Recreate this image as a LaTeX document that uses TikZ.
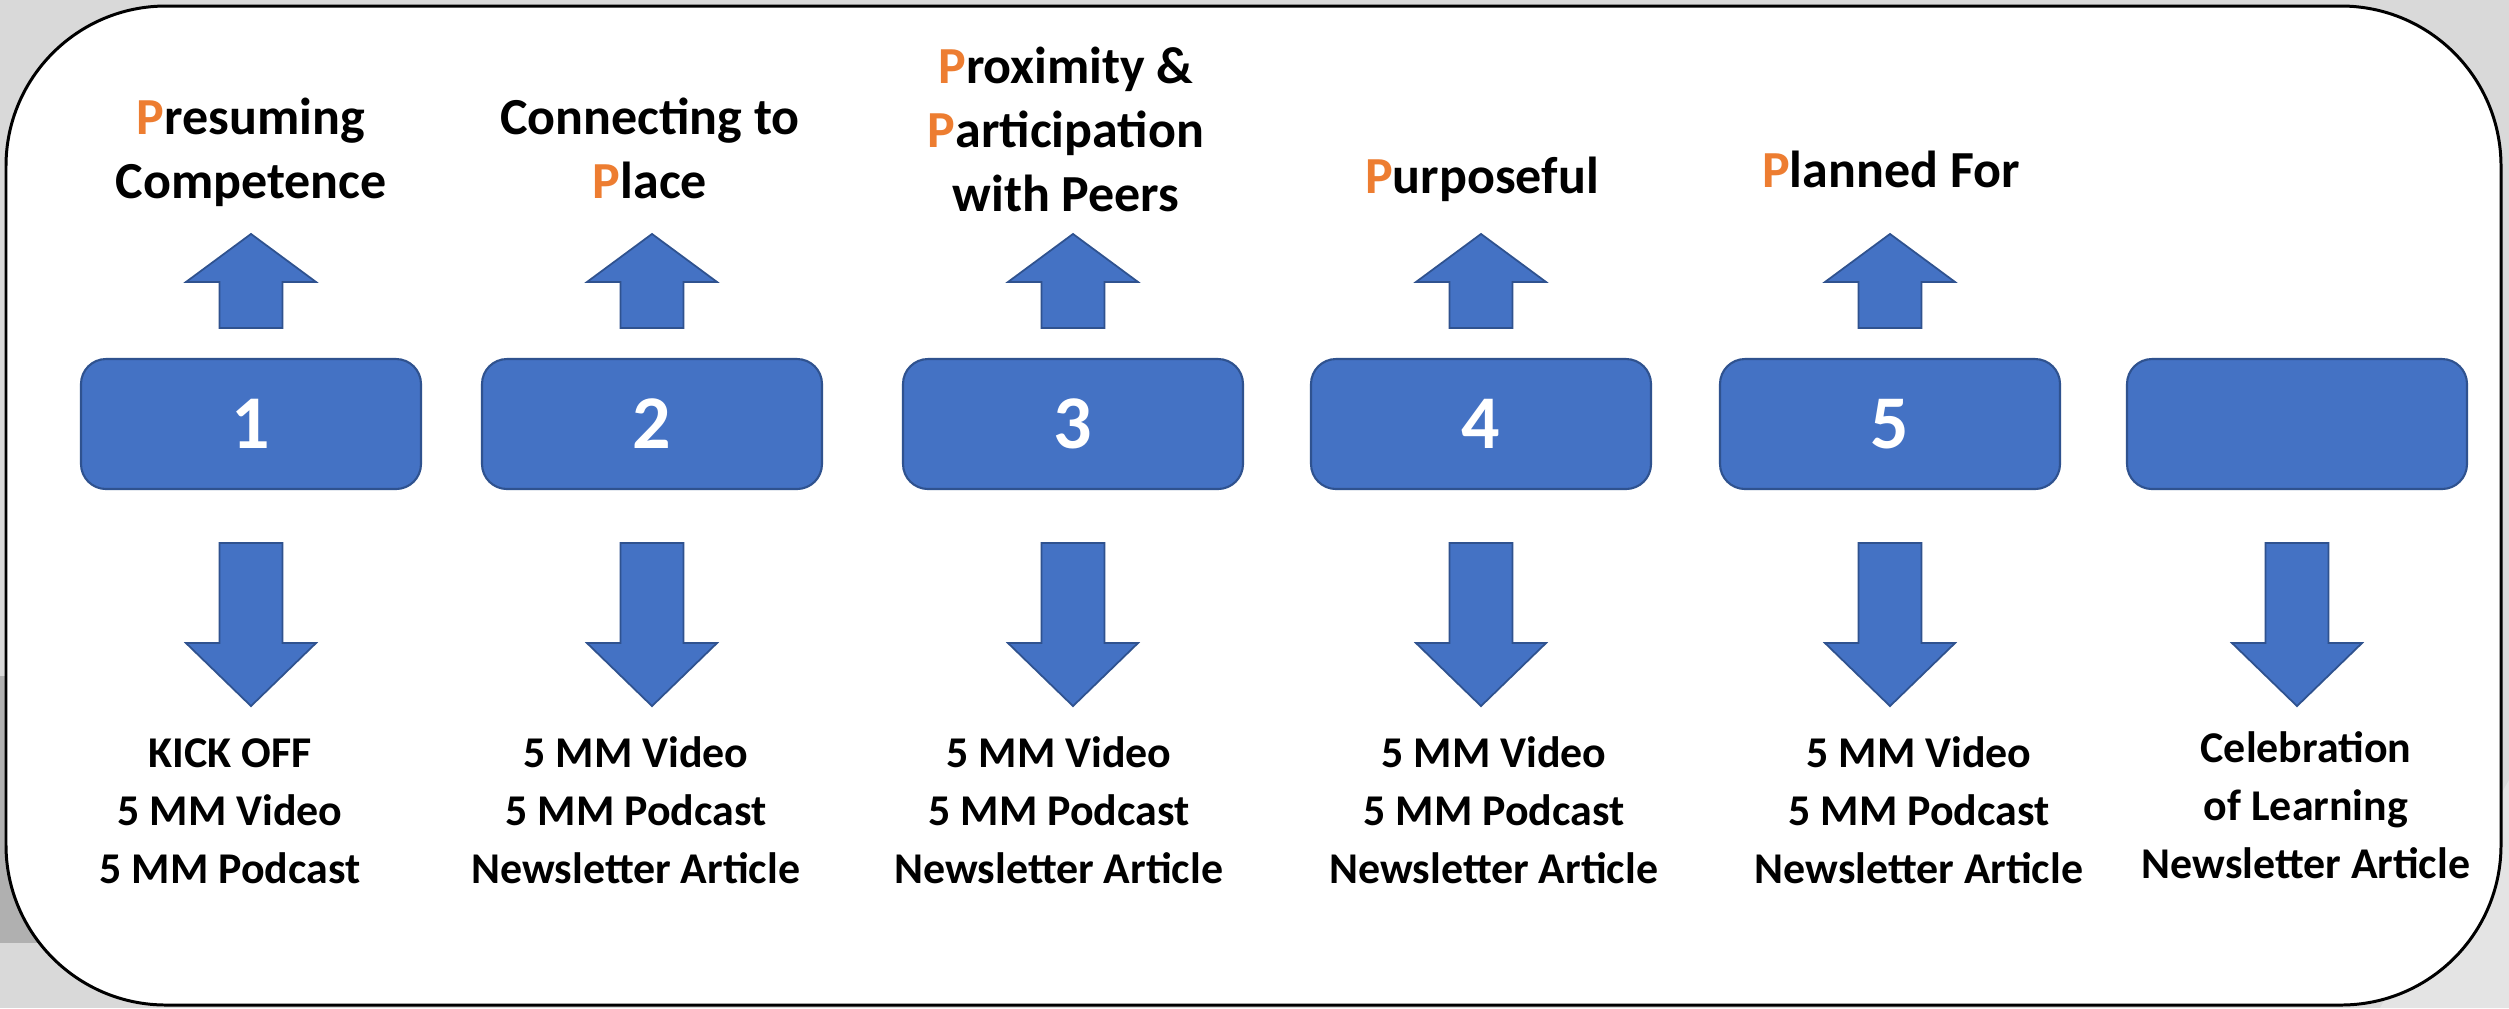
\documentclass[tikz,border=0pt]{standalone}
\usepackage{fontspec}
\setmainfont{Carlito}
\usetikzlibrary{positioning,calc}

\definecolor{boxblue}{HTML}{4472C4}
\definecolor{boxedge}{HTML}{2F528F}
\definecolor{pOrange}{HTML}{ED7D31}
\definecolor{slidegrey}{HTML}{D9D9D9}
\definecolor{shadegrey}{HTML}{B0B0B0}
\definecolor{lightgrey}{HTML}{E4E4E4}
\newcommand{\OP}{\textcolor{pOrange}{P}}

\tikzset{
  stepbox/.style={draw=boxedge, line width=0.6pt, fill=boxblue, rounded corners=2.5mm,
    minimum width=34mm, minimum height=13mm, text=white,
    font=\bfseries\fontsize{21.6}{26}\selectfont},
  toplabel/.style={align=center, anchor=base, inner sep=0pt,
    font=\bfseries\fontsize{14.8}{18.2}\selectfont},
  botlabel/.style={align=center, anchor=base, inner sep=0pt,
    font=\bfseries\fontsize{12.5}{16.4}\selectfont},
  blockarrow/.style={draw=boxedge, line width=0.5pt, fill=boxblue},
}

\begin{document}
\begin{tikzpicture}[x=0.1mm,y=-0.1mm]
	% slide background
	\fill[slidegrey] (0,0) rectangle (2509,1008);
	\useasboundingbox (0,0) rectangle (2509,1008);
	\fill[shadegrey] (0,676) rectangle (80,943);
	\fill[lightgrey] (2509,780) -- (2509,1008) -- (2380,1008) -- cycle;

	% frame
	\draw[line width=0.85pt, fill=white, rounded corners=16mm] (6,6) rectangle (2501,1005);

	% the six steps
	\node[stepbox] (box1) at (251,424) {1};
	\node[stepbox] (box2) at (652,424) {2};
	\node[stepbox] (box3) at (1073,424) {3};
	\node[stepbox] (box4) at (1481,424) {4};
	\node[stepbox] (box5) at (1890,424) {5};
	\node[stepbox] (box6) at (2297,424) {};

	% up arrows
	\foreach \i in {1,...,5}
		\draw[blockarrow] ($(box\i.north)+(0,-124)$) -- ++(65,48) -- ++(-33.5,0) -- ++(0,46)
			-- ++(-63,0) -- ++(0,-46) -- ++(-33.5,0) -- cycle;

	% down arrows
	\foreach \i in {1,...,6}
		\draw[blockarrow] ($(box\i.south)+(-31.5,53)$) -- ++(63,0) -- ++(0,100) -- ++(33.5,0)
			-- ++(-65,63) -- ++(-65,-63) -- ++(33.5,0) -- cycle;

	% the five Ps (anchored on the last line)
	\node[toplabel] (top1) at (251,198) {\OP resuming\\Competence};
	\node[toplabel] (top2) at (650,198) {Connecting to\\\OP lace};
	\node[toplabel] (top3) at (1066,211) {\OP roximity \&\\\OP articipation\\with Peers};
	\node[toplabel] (top4) at (1482,193) {\OP urposeful};
	\node[toplabel] (top5) at (1891,187) {\OP lanned For};

	% outputs
	\node[botlabel] (bot1) at (230,883) {KICK OFF\\5 MM Video\\5 MM Podcast};
	\node[botlabel] (bot2) at (636,883) {5 MM Video\\5 MM Podcast\\Newsletter Article};
	\node[botlabel] (bot3) at (1059,883) {5 MM Video\\5 MM Podcast\\Newsletter Article};
	\node[botlabel] (bot4) at (1494,883) {5 MM Video\\5 MM Podcast\\Newsletter Article};
	\node[botlabel] (bot5) at (1919,883) {5 MM Video\\5 MM Podcast\\Newsletter Article};
	\node[botlabel] (bot6) at (2306,878) {Celebration\\of Learning\\Newsletter Article};
\end{tikzpicture}
\end{document}
